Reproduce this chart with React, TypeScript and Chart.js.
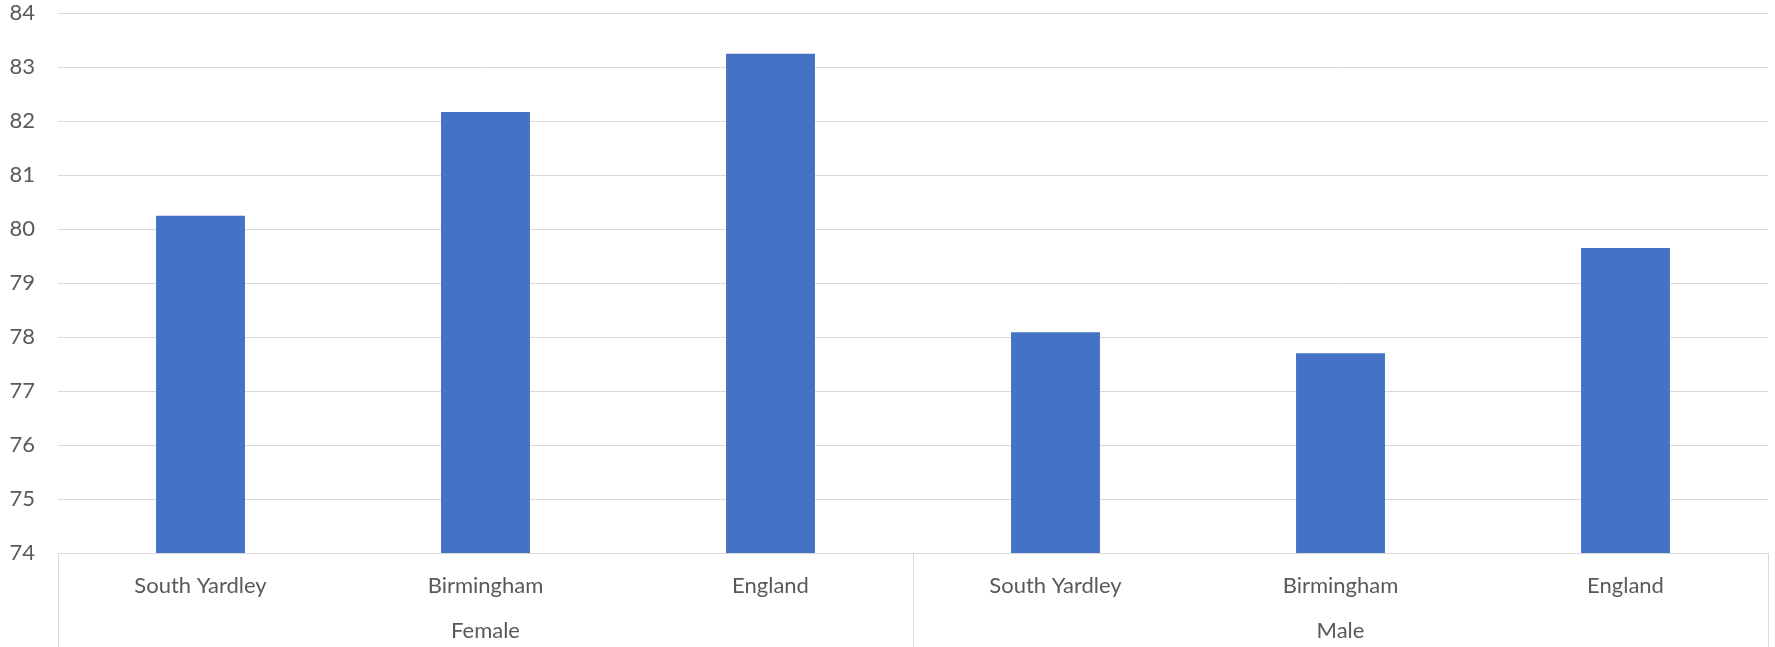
import React, { useEffect, useRef } from "react";
import { Chart, registerables } from "chart.js";

Chart.register(...registerables);

const categories = ["South Yardley", "Birmingham", "England", "South Yardley", "Birmingham", "England"];
const groups = ["Female", "Male"];
const groupSizes = [3, 3];
const values = [80.25, 82.17, 83.25, 78.09, 77.7, 79.65];
const yTicks = [74, 75, 76, 77, 78, 79, 80, 81, 82, 83, 84];

const FONT = "Lato, 'Open Sans', sans-serif";
const FONT_SIZE = 22;
const TEXT = "#595959";
const LINE = "#d9d9d9";

const groupPlugin = {
  id: "groupLabels",
  afterDraw(chart: any) {
    const { ctx, chartArea } = chart;
    const x = chart.scales.x;
    const bottom = chart.height;
    ctx.save();
    ctx.strokeStyle = LINE;
    ctx.lineWidth = 1;
    let start = 0;
    const half = (x.getPixelForValue(1) - x.getPixelForValue(0)) / 2;
    const edges: number[] = [x.getPixelForValue(0) - half];
    groupSizes.forEach((n, gi) => {
      const end = start + n - 1;
      const right = x.getPixelForValue(end) + half;
      edges.push(right);
      const cx = (x.getPixelForValue(start) + x.getPixelForValue(end)) / 2;
      ctx.fillStyle = TEXT;
      ctx.font = `${FONT_SIZE}px ${FONT}`;
      ctx.textAlign = "center";
      ctx.textBaseline = "alphabetic";
      ctx.fillText(groups[gi], cx, 638);
      start += n;
    });
    edges.forEach((ex) => {
      const px = Math.round(ex) + 0.5;
      ctx.beginPath();
      ctx.moveTo(px, chartArea.bottom);
      ctx.lineTo(px, bottom);
      ctx.stroke();
    });
    ctx.restore();
  },
};

export default function App() {
  const ref = useRef<HTMLCanvasElement>(null);
  useEffect(() => {
    if (!ref.current) return;
    const chart = new Chart(ref.current, {
      type: "bar",
      data: {
        labels: categories,
        datasets: [
          {
            data: values,
            backgroundColor: "#4472C4",
            borderWidth: 0,
            barPercentage: 0.312,
            categoryPercentage: 1,
          },
        ],
      },
      options: {
        animation: false,
        responsive: false,
        maintainAspectRatio: false,
        devicePixelRatio: 1,
        layout: { padding: { top: 0, right: 7, left: 0, bottom: 0 } },
        plugins: { legend: { display: false }, tooltip: { enabled: false }, title: { display: false } },
        scales: {
          x: {
            grid: { display: false, drawTicks: false },
            border: { display: true, color: LINE, width: 1 },
            ticks: {
              color: TEXT,
              font: { family: FONT, size: FONT_SIZE },
              padding: 20,
              maxRotation: 0,
              autoSkip: false,
            },
            afterFit(scale: any) {
              scale.height = 94;
            },
          },
          y: {
            min: 74,
            max: 84,
            afterBuildTicks(scale: any) {
              scale.ticks = yTicks.map((v) => ({ value: v }));
            },
            grid: { color: LINE, lineWidth: 1, drawTicks: true, tickLength: 23, tickColor: "rgba(0,0,0,0)" },
            border: { display: false },
            ticks: {
              color: TEXT,
              font: { family: FONT, size: FONT_SIZE },
              padding: 0,
            },
            afterFit(scale: any) {
              scale.width = 58;
            },
          },
        },
      },
      plugins: [groupPlugin],
    });
    return () => chart.destroy();
  }, []);
  return (
    <div style={{ position: "fixed", left: 0, top: 0, width: 1775, height: 647, background: "#fff" }}>
      <canvas ref={ref} width={1775} height={647} style={{ width: 1775, height: 647, display: "block" }} />
    </div>
  );
}
